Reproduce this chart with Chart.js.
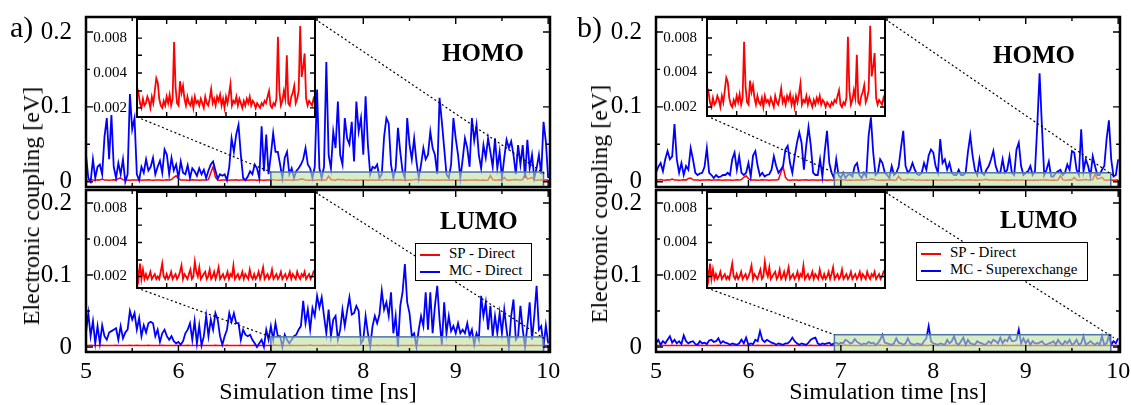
<!DOCTYPE html>
<html lang="en">
<head>
<meta charset="UTF-8">
<title>Electronic coupling vs simulation time</title>
<style>
  body { margin: 0; background: #fff; overflow: hidden; }
  #figure { position: relative; width: 1131px; height: 405px; font-family: "Liberation Serif", "Times New Roman", serif; color: #000; }
  #figure canvas { position: absolute; }
  .txt { position: absolute; white-space: nowrap; line-height: 1; z-index: 3; }
  .tag { font-size: 30px; }
  .orb { font-size: 25px; font-weight: bold; }
  .ytitle { font-size: 24px; transform: translate(-50%, -50%) rotate(-90deg); }
  .legend { position: absolute; z-index: 3; box-sizing: border-box; border: 1.5px solid #000; background: #fff;
            font-size: 15px; line-height: 17px; padding: 1px 4px; }
  .legend div { white-space: nowrap; }
  .legend i { display: inline-block; width: 20px; height: 2px; vertical-align: middle; margin-right: 9px; }
</style>
</head>
<body>
<div id="figure">
  <div class="txt tag" style="left:10px;top:12px">a)</div>
  <div class="txt tag" style="left:577px;top:12px">b)</div>
  <div class="txt orb" style="left:442px;top:40px">HOMO</div>
  <div class="txt orb" style="left:440px;top:208px">LUMO</div>
  <div class="txt orb" style="left:993px;top:42px">HOMO</div>
  <div class="txt orb" style="left:1000px;top:207px">LUMO</div>
  <div class="txt ytitle" style="left:31px;top:206px">Electronic coupling [eV]</div>
  <div class="txt ytitle" style="left:599px;top:204px">Electronic coupling [eV]</div>
</div>

<script src="https://cdn.jsdelivr.net/npm/chart.js"></script>
<script>
// time grid of the trajectory (ns), one frame every 25 ps
const simTime = Array.from({ length: 201 }, (_, i) => +(5 + i * 0.025).toFixed(3));

const seriesNames = ['SP - Direct', 'MC - Direct', 'MC - Superexchange'];

// SP - Direct coupling (eV), same in both panels
const spDirectHomo = [
  0.0025,0.0022,0.0030,0.0024,0.0021,0.0026,0.0023,0.0035,0.0022,0.0025,
  0.0021,0.0024,0.0028,0.0022,0.0045,0.0050,0.0026,0.0022,0.0024,0.0021,
  0.0025,0.0023,0.0022,0.0026,0.0021,0.0024,0.0022,0.0027,0.0023,0.0021,
  0.0025,0.0022,0.0024,0.0021,0.0023,0.0026,0.0022,0.0030,0.0060,0.0080,
  0.0040,0.0024,0.0022,0.0025,0.0021,0.0023,0.0026,0.0022,0.0024,0.0021,
  0.0025,0.0022,0.0024,0.0030,0.0120,0.0200,0.0060,0.0024,0.0021,0.0023,
  0.0022,0.0025,0.0021,0.0024,0.0022,0.0026,0.0021,0.0023,0.0022,0.0024,
  0.0021,0.0023,0.0022,0.0025,0.0021,0.0024,0.0022,0.0021,0.0023,0.0022,
  0.0030,0.0027,0.0022,0.0020,0.0024,0.0021,0.0022,0.0025,0.0023,0.0020,
  0.0025,0.0022,0.0028,0.0036,0.0033,0.0024,0.0021,0.0020,0.0023,0.0021,
  0.0025,0.0022,0.0026,0.0021,0.0024,0.0074,0.0030,0.0022,0.0021,0.0034,
  0.0027,0.0031,0.0024,0.0021,0.0025,0.0022,0.0021,0.0024,0.0020,0.0025,
  0.0022,0.0023,0.0021,0.0024,0.0022,0.0020,0.0025,0.0022,0.0021,0.0024,
  0.0029,0.0022,0.0024,0.0021,0.0025,0.0023,0.0026,0.0021,0.0024,0.0020,
  0.0025,0.0022,0.0026,0.0032,0.0021,0.0023,0.0022,0.0025,0.0021,0.0024,
  0.0022,0.0020,0.0023,0.0021,0.0024,0.0022,0.0025,0.0021,0.0023,0.0022,
  0.0020,0.0022,0.0021,0.0020,0.0022,0.0021,0.0023,0.0022,0.0025,0.0028,
  0.0021,0.0020,0.0022,0.0021,0.0024,0.0082,0.0028,0.0021,0.0023,0.0028,
  0.0024,0.0057,0.0022,0.0021,0.0025,0.0027,0.0031,0.0022,0.0024,0.0028,
  0.0102,0.0037,0.0045,0.0059,0.0024,0.0021,0.0023,0.0022,0.0021,0.0024,
  0.0022
];
const spDirectLumo = [
  0.0022,0.0019,0.0024,0.0020,0.0019,0.0021,0.0019,0.0023,0.0020,0.0019,
  0.0021,0.0020,0.0019,0.0024,0.0020,0.0019,0.0021,0.0019,0.0020,0.0022,
  0.0019,0.0020,0.0023,0.0019,0.0021,0.0020,0.0019,0.0022,0.0020,0.0019,
  0.0021,0.0019,0.0020,0.0024,0.0019,0.0020,0.0021,0.0019,0.0020,0.0022,
  0.0019,0.0021,0.0020,0.0019,0.0023,0.0020,0.0019,0.0021,0.0019,0.0020,
  0.0022,0.0019,0.0020,0.0021,0.0019,0.0020,0.0023,0.0019,0.0021,0.0020,
  0.0019,0.0022,0.0020,0.0019,0.0021,0.0019,0.0020,0.0022,0.0019,0.0020,
  0.0021,0.0019,0.0020,0.0023,0.0019,0.0020,0.0021,0.0019,0.0020,0.0021,
  0.0024,0.0019,0.0026,0.0019,0.0023,0.0019,0.0021,0.0019,0.0020,0.0022,
  0.0019,0.0020,0.0021,0.0019,0.0020,0.0019,0.0022,0.0026,0.0020,0.0019,
  0.0021,0.0019,0.0020,0.0022,0.0019,0.0020,0.0021,0.0019,0.0020,0.0022,
  0.0025,0.0019,0.0021,0.0020,0.0019,0.0021,0.0023,0.0019,0.0020,0.0027,
  0.0022,0.0020,0.0024,0.0019,0.0020,0.0021,0.0022,0.0019,0.0020,0.0023,
  0.0019,0.0020,0.0022,0.0019,0.0021,0.0024,0.0019,0.0020,0.0021,0.0019,
  0.0020,0.0022,0.0019,0.0021,0.0020,0.0025,0.0019,0.0020,0.0021,0.0019,
  0.0020,0.0022,0.0019,0.0021,0.0020,0.0019,0.0023,0.0020,0.0019,0.0021,
  0.0019,0.0020,0.0022,0.0019,0.0021,0.0024,0.0019,0.0020,0.0021,0.0019,
  0.0020,0.0023,0.0019,0.0020,0.0021,0.0019,0.0020,0.0022,0.0019,0.0020,
  0.0021,0.0019,0.0020,0.0022,0.0019,0.0021,0.0020,0.0019,0.0022,0.0020,
  0.0019,0.0021,0.0020,0.0022,0.0019,0.0020,0.0021,0.0019,0.0020,0.0022,
  0.0021
];

// MC - Direct coupling (eV), panel a
const mcDirectHomo = [
  0.036,0.005,0.0,0.03,0.005,0.02,0.023,0.01,0.06,0.085,
  0.03,0.089,0.02,0.005,0.025,0.01,0.03,0.0,0.01,0.117,
  0.07,0.085,0.01,0.002,0.02,0.012,0.03,0.015,0.02,0.032,
  0.01,0.02,0.028,0.012,0.043,0.036,0.01,0.032,0.015,0.023,
  0.005,0.027,0.012,0.01,0.022,0.005,0.018,0.014,0.008,0.018,
  0.01,0.016,0.005,0.015,0.023,0.027,0.015,0.004,0.01,0.008,
  0.01,0.002,0.02,0.058,0.04,0.063,0.076,0.036,0.005,0.002,
  0.007,0.014,0.01,0.023,0.018,0.005,0.074,0.014,0.063,0.01,
  0.036,0.065,0.04,0.04,0.023,0.005,0.032,0.04,0.01,0.018,
  0.005,0.014,0.018,0.023,0.03,0.045,0.023,0.018,0.005,0.02,
  0.123,0.018,0.005,0.02,0.16,0.036,0.018,0.067,0.045,0.107,
  0.036,0.023,0.085,0.058,0.05,0.08,0.027,0.107,0.067,0.085,
  0.036,0.114,0.049,0.01,0.02,0.018,0.023,0.005,0.01,0.06,
  0.085,0.078,0.023,0.005,0.018,0.072,0.04,0.014,0.005,0.085,
  0.05,0.03,0.058,0.027,0.005,0.023,0.045,0.03,0.036,0.067,
  0.045,0.036,0.01,0.112,0.08,0.045,0.01,0.005,0.023,0.085,
  0.058,0.036,0.005,0.03,0.058,0.045,0.02,0.085,0.055,0.076,
  0.036,0.018,0.049,0.032,0.058,0.04,0.02,0.058,0.018,0.04,
  0.005,0.032,0.056,0.045,0.054,0.036,0.01,0.049,0.023,0.049,
  0.005,0.056,0.018,0.036,0.005,0.018,0.036,0.01,0.08,0.054,
  0.005
];
const mcDirectLumo = [
  0.02,0.047,0.015,0.036,0.005,0.029,0.005,0.03,0.015,0.01,
  0.02,0.022,0.024,0.026,0.01,0.029,0.012,0.02,0.024,0.05,
  0.038,0.047,0.024,0.04,0.015,0.03,0.02,0.033,0.035,0.033,
  0.015,0.024,0.007,0.019,0.024,0.015,0.01,0.015,0.008,0.005,
  0.007,0.003,0.008,0.019,0.024,0.033,0.01,0.036,0.005,0.03,
  0.002,0.015,0.043,0.015,0.038,0.024,0.047,0.038,0.015,0.003,
  0.015,0.024,0.047,0.035,0.047,0.033,0.033,0.01,0.024,0.017,
  0.015,0.017,0.01,0.005,0.0,0.005,0.01,0.0,0.024,0.01,
  0.029,0.01,0.033,0.015,0.015,0.0,0.017,0.01,0.005,0.01,
  0.015,0.017,0.024,0.029,0.064,0.033,0.052,0.024,0.054,0.043,
  0.071,0.055,0.069,0.043,0.019,0.052,0.015,0.038,0.043,0.01,
  0.024,0.052,0.029,0.05,0.069,0.045,0.047,0.057,0.05,0.005,
  0.01,0.043,0.019,0.0,0.029,0.043,0.033,0.045,0.078,0.052,
  0.062,0.043,0.076,0.019,0.043,0.0,0.057,0.076,0.115,0.062,
  0.047,0.015,0.019,0.0,0.024,0.043,0.029,0.076,0.024,0.076,
  0.019,0.057,0.085,0.038,0.003,0.062,0.019,0.043,0.022,0.029,
  0.019,0.033,0.019,0.024,0.019,0.033,0.015,0.024,0.003,0.019,
  0.01,0.071,0.043,0.062,0.024,0.057,0.015,0.043,0.019,0.047,
  0.019,0.052,0.024,0.0,0.043,0.066,0.01,0.015,0.057,0.024,
  0.0,0.029,0.062,0.01,0.043,0.085,0.024,0.029,0.0,0.03,
  0.005
];

// MC - Superexchange coupling (eV), panel b
const mcSuperHomo = [
  0.012,0.02,0.025,0.014,0.03,0.041,0.03,0.034,0.077,0.03,
  0.012,0.025,0.009,0.021,0.016,0.045,0.03,0.012,0.009,0.011,
  0.012,0.02,0.045,0.012,0.009,0.005,0.009,0.006,0.007,0.009,
  0.009,0.012,0.009,0.03,0.039,0.016,0.034,0.012,0.009,0.012,
  0.025,0.007,0.035,0.041,0.021,0.008,0.012,0.007,0.009,0.01,
  0.016,0.034,0.021,0.012,0.016,0.021,0.043,0.048,0.025,0.012,
  0.034,0.052,0.066,0.052,0.016,0.048,0.073,0.048,0.012,0.009,
  0.009,0.03,0.007,0.04,0.068,0.025,0.012,0.005,0.03,0.009,
  0.005,0.012,0.005,0.009,0.01,0.007,0.021,0.025,0.009,0.005,
  0.012,0.007,0.061,0.086,0.039,0.009,0.012,0.03,0.025,0.012,
  0.009,0.005,0.021,0.009,0.012,0.02,0.045,0.068,0.021,0.012,
  0.016,0.025,0.016,0.01,0.009,0.012,0.025,0.016,0.035,0.043,
  0.039,0.021,0.012,0.057,0.025,0.03,0.016,0.025,0.012,0.009,
  0.009,0.016,0.009,0.009,0.012,0.04,0.062,0.035,0.016,0.009,
  0.03,0.012,0.009,0.016,0.021,0.03,0.041,0.021,0.012,0.012,
  0.03,0.012,0.016,0.034,0.012,0.009,0.043,0.052,0.021,0.009,
  0.012,0.014,0.021,0.009,0.014,0.075,0.145,0.075,0.009,0.016,
  0.027,0.007,0.007,0.012,0.014,0.016,0.009,0.012,0.023,0.016,
  0.041,0.039,0.016,0.009,0.07,0.014,0.03,0.021,0.007,0.034,
  0.021,0.009,0.009,0.016,0.021,0.057,0.082,0.03,0.007,0.009,
  0.03
];
const mcSuperLumo = [
  0.005,0.01,0.003,0.008,0.005,0.01,0.015,0.006,0.01,0.005,
  0.008,0.004,0.016,0.008,0.005,0.007,0.008,0.004,0.003,0.008,
  0.005,0.006,0.004,0.009,0.01,0.007,0.008,0.012,0.005,0.008,
  0.006,0.005,0.003,0.005,0.004,0.003,0.005,0.01,0.005,0.013,
  0.003,0.005,0.004,0.01,0.008,0.022,0.01,0.007,0.01,0.008,
  0.006,0.005,0.003,0.005,0.004,0.003,0.005,0.005,0.008,0.013,
  0.008,0.005,0.003,0.005,0.004,0.003,0.006,0.01,0.012,0.013,
  0.005,0.003,0.005,0.004,0.005,0.006,0.003,0.005,0.006,0.004,
  0.006,0.005,0.01,0.008,0.005,0.006,0.011,0.007,0.005,0.003,
  0.005,0.004,0.007,0.005,0.006,0.003,0.005,0.01,0.017,0.006,
  0.005,0.004,0.003,0.005,0.012,0.006,0.005,0.003,0.005,0.012,
  0.005,0.004,0.003,0.005,0.004,0.003,0.008,0.012,0.029,0.008,
  0.005,0.004,0.003,0.005,0.004,0.003,0.01,0.005,0.008,0.015,
  0.005,0.003,0.008,0.013,0.003,0.01,0.005,0.004,0.003,0.008,
  0.006,0.005,0.003,0.004,0.008,0.005,0.01,0.008,0.005,0.013,
  0.005,0.01,0.008,0.015,0.008,0.008,0.01,0.024,0.005,0.012,
  0.005,0.01,0.003,0.008,0.005,0.005,0.006,0.008,0.004,0.003,
  0.005,0.006,0.008,0.003,0.01,0.005,0.003,0.008,0.005,0.01,
  0.003,0.005,0.01,0.003,0.005,0.015,0.003,0.005,0.008,0.005,
  0.003,0.006,0.003,0.015,0.003,0.005,0.015,0.003,0.008,0.005,
  0.012
];

// axis ticks
const timeTicks = [5, 5.5, 6, 6.5, 7, 7.5, 8, 8.5, 9, 9.5, 10];
const timeLabels = [5, 6, 7, 8, 9, 10];
const couplingTicks = [0, 0.05, 0.1, 0.15, 0.2];
const couplingLabels = [0, 0.1, 0.2];
const insetLabels = [0.002, 0.004, 0.008];
const insetTicks = [0.002, 0.0028, 0.004, 0.0057, 0.008];
const insetTimeTicks = [7.5, 8, 8.5, 9, 9.5];

const serif = "'Liberation Serif', 'Times New Roman', serif";
Chart.defaults.font.family = serif;
Chart.defaults.color = '#000';

const RED = '#ff0000';
const BLUE = '#0000ff';

const zoomFrom = simTime.indexOf(7);
const pts = (arr, from = 0) => arr.slice(from).map((v, i) => ({ x: simTime[from + i], y: v }));

// four stacked panes: HOMO on top, LUMO below, each with a zoomed inset of SP - Direct
const panes = [
  { id: 'aHomo', left: 0, top: 0, height: 190, pad: { top: 17, bottom: 3 }, timeAxis: false, yMax: 0.22,
    red: spDirectHomo, blue: mcDirectHomo, blueName: seriesNames[1], box: [7, 9.95, 0.013],
    inset: { left: 137, top: 19, right: 315, bottom: 117, min: 0.00167, max: 0.0117 } },
  { id: 'aLumo', left: 0, top: 188, height: 217, pad: { top: 2, bottom: 0 }, timeAxis: true, yMax: 0.218,
    red: spDirectLumo, blue: mcDirectLumo, blueName: seriesNames[1], box: [7, 9.95, 0.014],
    inset: { left: 137, top: 192, right: 315, bottom: 288, min: 0.00158, max: 0.0112 },
    legend: { left: 415, top: 243, width: 117, height: 38 } },
  { id: 'bHomo', left: 570, top: 0, height: 190, pad: { top: 17, bottom: 3 }, timeAxis: false, yMax: 0.22,
    red: spDirectHomo, blue: mcSuperHomo, blueName: seriesNames[2], box: [6.93, 9.92, 0.012],
    inset: { left: 707, top: 19, right: 885, bottom: 116, min: 0.00167, max: 0.0117 } },
  { id: 'bLumo', left: 570, top: 188, height: 217, pad: { top: 2, bottom: 0 }, timeAxis: true, yMax: 0.218,
    red: spDirectLumo, blue: mcSuperLumo, blueName: seriesNames[2], box: [6.93, 9.92, 0.017],
    inset: { left: 707, top: 192, right: 885, bottom: 288, min: 0.00158, max: 0.0112 },
    legend: { left: 916, top: 242, width: 172, height: 39 } }
];

const figure = document.getElementById('figure');

function addCanvas(id, left, top, w, h) {
  const c = document.createElement('canvas');
  c.id = id;
  c.width = w; c.height = h;
  c.style.left = left + 'px'; c.style.top = top + 'px';
  c.style.width = w + 'px'; c.style.height = h + 'px';
  figure.appendChild(c);
  return c;
}

// keep end tick labels from shrinking the plot box
function noEdgePadding(s) {
  s.paddingTop = 0; s.paddingBottom = 0; s.paddingLeft = 0; s.paddingRight = 0;
}

// black box with inward ticks on all four sides
function framePlugin(xTicks, xMajor, yTicks, yMajor, major, minor, width) {
  return {
    id: 'frame',
    afterDraw(chart) {
      const { ctx, chartArea: a, scales: { x, y } } = chart;
      ctx.save();
      ctx.strokeStyle = '#000';
      ctx.lineWidth = 1.4;
      ctx.beginPath();
      xTicks.forEach(v => {
        const p = x.getPixelForValue(v);
        const l = xMajor.includes(v) ? major : minor;
        ctx.moveTo(p, a.bottom); ctx.lineTo(p, a.bottom - l);
        ctx.moveTo(p, a.top); ctx.lineTo(p, a.top + l);
      });
      yTicks.forEach(v => {
        const p = y.getPixelForValue(v);
        const l = yMajor.includes(v) ? major : minor;
        ctx.moveTo(a.left, p); ctx.lineTo(a.left + l, p);
        ctx.moveTo(a.right, p); ctx.lineTo(a.right - l, p);
      });
      ctx.stroke();
      ctx.lineWidth = width;
      ctx.strokeRect(a.left, a.top, a.width, a.height);
      ctx.restore();
    }
  };
}

// shaded zoom window plus dotted leaders to the inset corners
function zoomPlugin(pane) {
  return {
    id: 'zoomBox',
    afterDatasetsDraw(chart) {
      const { ctx, chartArea: a, scales: { x, y } } = chart;
      const [t0, t1, top] = pane.box;
      const x0 = x.getPixelForValue(t0), x1 = x.getPixelForValue(t1);
      const y0 = y.getPixelForValue(top), y1 = a.bottom;
      ctx.save();
      ctx.fillStyle = 'rgba(190, 225, 160, 0.6)';
      ctx.fillRect(x0, y0, x1 - x0, y1 - y0);
      ctx.strokeStyle = '#4f74a8';
      ctx.lineWidth = 1.5;
      ctx.strokeRect(x0, y0, x1 - x0, y1 - y0);
      const ins = pane.inset;
      ctx.strokeStyle = '#000';
      ctx.lineWidth = 1.2;
      ctx.setLineDash([2, 2.5]);
      ctx.beginPath();
      ctx.moveTo(ins.left - pane.left, ins.bottom - pane.top);
      ctx.lineTo(x0, y0);
      ctx.moveTo(ins.right - pane.left, ins.top - pane.top);
      ctx.lineTo(x1 + 3, y0 + 3);
      ctx.stroke();
      ctx.restore();
    }
  };
}

const whiteArea = {
  id: 'whiteArea',
  beforeDraw(chart) {
    const { ctx, chartArea: a } = chart;
    ctx.save();
    ctx.fillStyle = '#fff';
    ctx.fillRect(a.left, a.top, a.width, a.height);
    ctx.restore();
  }
};

function mainChart(pane) {
  const w = 560;
  const canvas = addCanvas(pane.id, pane.left, pane.top, w, pane.height);
  new Chart(canvas, {
    type: 'line',
    data: {
      datasets: [
        { label: pane.blueName, data: pts(pane.blue), borderColor: BLUE, borderWidth: 1.8 },
        { label: seriesNames[0], data: pts(pane.red), borderColor: RED, borderWidth: 1.5 }
      ]
    },
    options: {
      responsive: false,
      animation: false,
      layout: { padding: { top: pane.pad.top, bottom: pane.pad.bottom, left: 0, right: 10 } },
      elements: { point: { radius: 0 }, line: { tension: 0 } },
      plugins: { legend: { display: false }, tooltip: { enabled: false } },
      scales: {
        x: {
          type: 'linear', min: 5, max: 10.02, display: pane.timeAxis,
          grid: { display: false }, border: { display: false },
          afterBuildTicks: s => { s.ticks = timeLabels.map(v => ({ value: v })); },
          afterFit: s => { s.height = pane.timeAxis ? 53 : 0; noEdgePadding(s); },
          ticks: { font: { size: 24 }, padding: -3, maxRotation: 0, autoSkip: false, callback: v => String(v) },
          title: { display: true, text: 'Simulation time [ns]', font: { size: 24, lineHeight: 1 }, padding: 0 }
        },
        y: {
          min: -0.007, max: pane.yMax,
          grid: { display: false }, border: { display: false },
          afterBuildTicks: s => { s.ticks = couplingTicks.map(v => ({ value: v })); },
          afterFit: s => { s.width = 86; noEdgePadding(s); },
          ticks: {
            font: { size: 25 }, padding: 6,
            callback: v => couplingLabels.includes(v) ? (v === 0 ? '0' : v.toFixed(1)) : ''
          }
        }
      }
    },
    plugins: [zoomPlugin(pane), framePlugin(timeTicks, timeLabels, couplingTicks, couplingLabels, 7, 4, 2.5)]
  });
}

function insetChart(pane) {
  const ins = pane.inset;
  const labelW = 52;
  const canvas = addCanvas(pane.id + 'Inset', ins.left - labelW, ins.top - 4,
    ins.right - ins.left + labelW + 4, ins.bottom - ins.top + 8);
  new Chart(canvas, {
    type: 'line',
    data: { datasets: [{ label: seriesNames[0], data: pts(pane.red, zoomFrom), borderColor: RED, borderWidth: 1.8 }] },
    options: {
      responsive: false,
      animation: false,
      layout: { padding: { top: 4, bottom: 4, left: 0, right: 4 } },
      elements: { point: { radius: 0 }, line: { tension: 0 } },
      plugins: { legend: { display: false }, tooltip: { enabled: false } },
      scales: {
        x: { type: 'linear', min: 7, max: 10, display: false, afterFit: s => { s.height = 0; noEdgePadding(s); } },
        y: {
          type: 'logarithmic', min: ins.min, max: ins.max,
          grid: { display: false }, border: { display: false },
          afterBuildTicks: s => { s.ticks = insetLabels.map(v => ({ value: v })); },
          afterFit: s => { s.width = labelW; noEdgePadding(s); },
          ticks: { font: { size: 15 }, padding: 2, callback: v => v.toFixed(3) }
        }
      }
    },
    plugins: [whiteArea, framePlugin(insetTimeTicks, [], insetTicks, insetLabels, 5, 5, 2)]
  });
}

function addLegend(pane) {
  const box = document.createElement('div');
  box.className = 'legend';
  Object.assign(box.style, {
    left: pane.legend.left + 'px', top: pane.legend.top + 'px',
    width: pane.legend.width + 'px', height: pane.legend.height + 'px'
  });
  [[seriesNames[0], RED], [pane.blueName, BLUE]].forEach(([name, color]) => {
    const row = document.createElement('div');
    const swatch = document.createElement('i');
    swatch.style.background = color;
    row.appendChild(swatch);
    row.appendChild(document.createTextNode(name));
    box.appendChild(row);
  });
  figure.appendChild(box);
}

panes.forEach(mainChart);
panes.forEach(insetChart);
panes.filter(p => p.legend).forEach(addLegend);
</script>
</body>
</html>
